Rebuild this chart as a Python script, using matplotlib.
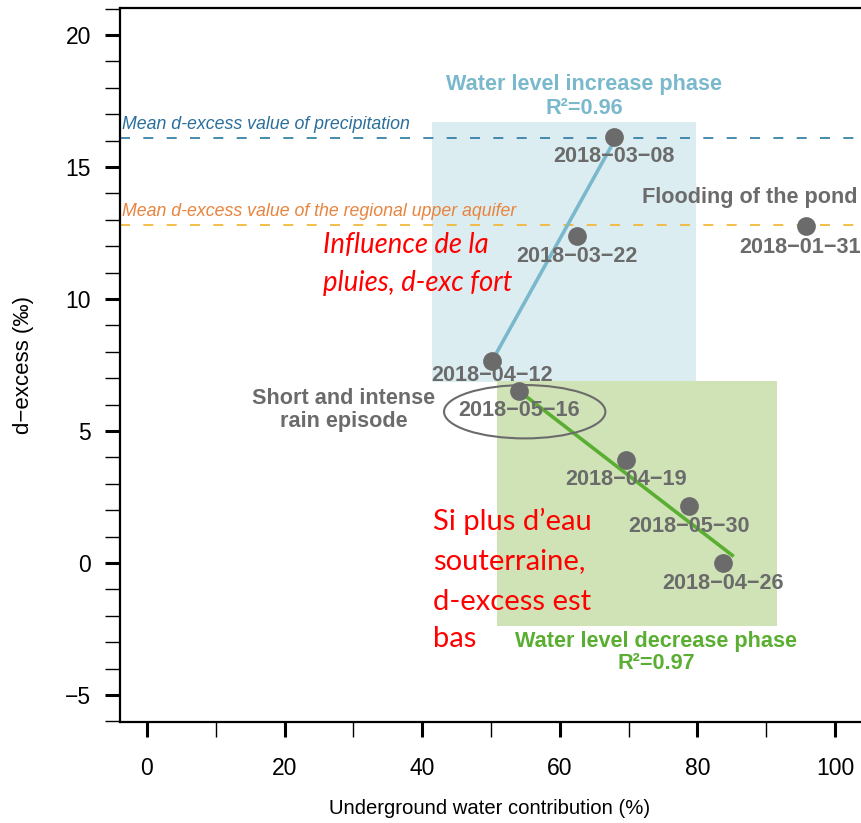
import matplotlib
matplotlib.use("Agg")
import matplotlib.pyplot as plt
from matplotlib.patches import Rectangle, Ellipse
from matplotlib.ticker import MultipleLocator

# ---------------- data ----------------
dates = ["2018−03−08", "2018−03−22", "2018−01−31", "2018−04−12",
         "2018−05−16", "2018−04−19", "2018−05−30", "2018−04−26"]
contribution = [67.93, 62.47, 95.79, 50.21, 54.09, 69.64, 78.83, 83.77]
dexcess = [16.15, 12.37, 12.75, 7.66, 6.53, 3.91, 2.15, 0.0]

inc_fit_x = [50.15, 68.42]
inc_fit_y = [7.65, 16.22]
dec_fit_x = [54.05, 85.28]
dec_fit_y = [6.52, 0.25]

mean_precip = 16.10
mean_aquifer = 12.81

inc_box_x = [41.36, 79.76]
inc_box_y = [6.87, 16.72]
dec_box_x = [50.81, 91.57]
dec_box_y = [-2.37, 6.90]

xticks = [0, 20, 40, 60, 80, 100]
yticks = [-5, 0, 5, 10, 15, 20]
ytick_labels = ["−5", "0", "5", "10", "15", "20"]

note_low_lines = ["Si plus d’eau", "souterraine,", "d-excess est", "bas"]
note_low_y = [1.57, 0.09, -1.47, -2.89]

# ---------------- style ----------------
GRAY = "#6b6b6b"
LBLUE = "#7ab8cc"
GREEN = "#5aae32"
FONT = "Liberation Sans"
plt.rcParams['font.family'] = [FONT, 'DejaVu Sans']

fig = plt.figure(figsize=(8.61, 8.23), dpi=100)
W, H = 861, 823
ax = fig.add_axes([120 / W, (H - 722) / H, (W - 120) / W, 714 / H])
ax.set_xlim(-3.92, 103.78)
ax.set_ylim(-6.02, 21.02)

for s in ["left", "bottom", "top"]:
    ax.spines[s].set_linewidth(1.6)
ax.spines["right"].set_visible(False)

# boxes
ax.add_patch(Rectangle((inc_box_x[0], inc_box_y[0]), inc_box_x[1] - inc_box_x[0],
                       inc_box_y[1] - inc_box_y[0], facecolor="#dcedf1", edgecolor="none", zorder=0))
ax.add_patch(Rectangle((dec_box_x[0], dec_box_y[0]), dec_box_x[1] - dec_box_x[0],
                       dec_box_y[1] - dec_box_y[0], facecolor="#cfe3b7", edgecolor="none", zorder=0.5))

# mean lines
ax.axhline(mean_precip, color="#2878a0", lw=1.2, ls=(0, (6, 8)), zorder=1)
ax.axhline(mean_aquifer, color="#f2b42a", lw=1.2, ls=(0, (6, 8)), zorder=1)
ax.text(-3.63, mean_precip + 0.2, "Mean d-excess value of precipitation", color="#2a6f9c",
        style="italic", fontsize=12.8, va="bottom", ha="left")
ax.text(-3.63, mean_aquifer + 0.2, "Mean d-excess value of the regional upper aquifer",
        color="#e8843e", style="italic", fontsize=12.8, va="bottom", ha="left")

# fit lines
ax.plot(inc_fit_x, inc_fit_y, color=LBLUE, lw=2.6, zorder=2, solid_capstyle="butt")
ax.plot(dec_fit_x, dec_fit_y, color=GREEN, lw=2.6, zorder=2, solid_capstyle="butt")

# points
ax.plot(contribution, dexcess, "o", color=GRAY, ms=13.5, mec="none", zorder=3)

label_dx = [0, 0, -6, 0, 0, 0, 0, 0]
label_dy = [-20, -20, -21, -15, -20, -20, -20, -20]
for d, x, y, dx, dy in zip(dates, contribution, dexcess, label_dx, label_dy):
    ax.annotate(d, (x, y), xytext=(dx, dy), textcoords="offset pixels",
                ha="center", va="center", fontsize=15.6, fontweight="bold", color=GRAY,
                annotation_clip=False, zorder=4)

# ellipse
ax.add_patch(Ellipse((54.9, 5.73), 23.45, 2.02, facecolor="none", edgecolor=GRAY, lw=1.5, zorder=4))

# annotations
BF = 15.6
ax.text(63.5, 18.14, "Water level increase phase", color=LBLUE, fontsize=BF,
        fontweight="bold", ha="center", va="center")
ax.text(63.5, 17.23, "R²=0.96", color=LBLUE, fontsize=BF, fontweight="bold",
        ha="center", va="center")
ax.text(74.0, -2.99, "Water level decrease phase", color=GREEN, fontsize=BF,
        fontweight="bold", ha="center", va="center")
ax.text(74.0, -3.79, "R²=0.97", color=GREEN, fontsize=BF, fontweight="bold",
        ha="center", va="center")
ax.text(87.6, 13.86, "Flooding of the pond", color=GRAY, fontsize=BF, fontweight="bold",
        ha="center", va="center")
ax.text(28.6, 5.80, "Short and intense\nrain episode", color=GRAY, fontsize=BF,
        fontweight="bold", ha="center", va="center", linespacing=1.1)

ax.text(25.6, 11.31, "Influence de la\npluies, d-exc fort", color="red", fontsize=19.8,
        style="italic", family=["Lato", "DejaVu Sans"], ha="left", va="center", linespacing=1.58)
for line, yy in zip(note_low_lines, note_low_y):
    ax.text(41.6, yy, line, color="red", fontsize=21,
            family=["Lato", "DejaVu Sans"], ha="left", va="center")

# ticks
ax.xaxis.set_major_locator(plt.FixedLocator(xticks))
ax.xaxis.set_minor_locator(MultipleLocator(10))
ax.yaxis.set_major_locator(plt.FixedLocator(yticks))
ax.yaxis.set_minor_locator(MultipleLocator(1))
ax.tick_params(axis="both", which="major", length=11, width=2.2, labelsize=16.5, pad=10)
ax.tick_params(axis="both", which="minor", length=11, width=1.0)
ax.tick_params(axis="x", which="major", pad=14)
ax.set_xticklabels([str(t) for t in xticks])
ax.set_yticklabels(ytick_labels)

ax.set_xlabel("Underground water contribution (%)", fontsize=14.6)
ax.set_ylabel("d−excess (‰)", fontsize=16)
ax.xaxis.set_label_coords((490 - 120) / (W - 120), -(808 - 722) / 714)
ax.yaxis.set_label_coords(-(120 - 24) / (W - 120), 0.5)
ax.xaxis.label.set_va("center")
ax.yaxis.label.set_va("center")

fig.savefig("out.png", dpi=100)
